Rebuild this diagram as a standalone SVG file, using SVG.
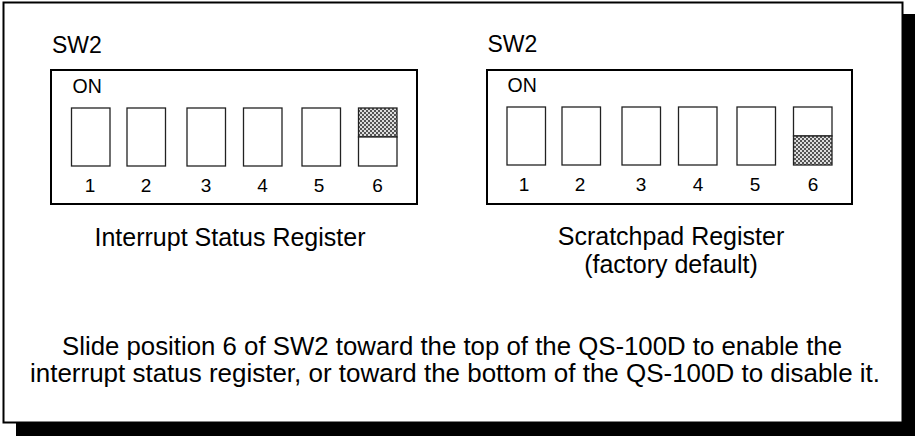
<svg xmlns="http://www.w3.org/2000/svg" width="915" height="436" viewBox="0 0 915 436">
<style>
text{font-family:"Liberation Sans",Arial,sans-serif;fill:#000}
.box{fill:#fff;stroke:#000;stroke-width:2}
.sw{fill:#fff;stroke:#222;stroke-width:1.3}
.on{font-size:19.5px}
.num{font-size:19px;text-anchor:middle}
.title{font-size:23px}
.cap{font-size:25px;text-anchor:middle}
.note{font-size:25px;text-anchor:middle}
</style>
<defs>
<pattern id="hatch" width="4" height="4" patternUnits="userSpaceOnUse">
<rect width="4" height="4" fill="#ddd"/>
<rect width="2" height="2" fill="#555"/>
<rect x="2" y="2" width="2" height="2" fill="#555"/>
</pattern>
</defs>
<rect x="16" y="14" width="899" height="422" fill="#000"/>
<rect x="3.5" y="2.5" width="899" height="420" class="box"/>
<g id="left">
<text x="52" y="52.5" class="title">SW2</text>
<rect x="51" y="70" width="366" height="134" class="box"/>
<text x="72.5" y="93" class="on">ON</text>
<rect x="71.5" y="108" width="38.5" height="58" class="sw"/>
<rect x="127" y="108" width="38.5" height="58" class="sw"/>
<rect x="187" y="108" width="38.5" height="58" class="sw"/>
<rect x="243.5" y="108" width="38.5" height="58" class="sw"/>
<rect x="302" y="108" width="38.5" height="58" class="sw"/>
<rect x="358.5" y="108" width="38.5" height="29" fill="url(#hatch)" stroke="#222" stroke-width="1.3"/>
<rect x="358.5" y="137" width="38.5" height="29" class="sw"/>
<text x="90" y="192" class="num">1</text>
<text x="146" y="192" class="num">2</text>
<text x="206" y="192" class="num">3</text>
<text x="262.5" y="192" class="num">4</text>
<text x="319" y="192" class="num">5</text>
<text x="377.5" y="192" class="num">6</text>
<text x="230" y="246" class="cap">Interrupt Status Register</text>
</g>
<g id="right">
<text x="487.5" y="51.5" class="title">SW2</text>
<rect x="487" y="70" width="365" height="134" class="box"/>
<text x="507.5" y="92" class="on">ON</text>
<rect x="507" y="107" width="38.5" height="58" class="sw"/>
<rect x="562" y="107" width="38.5" height="58" class="sw"/>
<rect x="622" y="107" width="38.5" height="58" class="sw"/>
<rect x="678.5" y="107" width="38.5" height="58" class="sw"/>
<rect x="737" y="107" width="38.5" height="58" class="sw"/>
<rect x="793.5" y="107" width="38.5" height="29" class="sw"/>
<rect x="793.5" y="136" width="38.5" height="29" fill="url(#hatch)" stroke="#222" stroke-width="1.3"/>
<text x="524" y="191" class="num">1</text>
<text x="580" y="191" class="num">2</text>
<text x="641" y="191" class="num">3</text>
<text x="698" y="191" class="num">4</text>
<text x="755" y="191" class="num">5</text>
<text x="813" y="191" class="num">6</text>
<text x="671" y="245" class="cap">Scratchpad Register</text>
<text x="671" y="273" class="cap">(factory default)</text>
</g>
<g id="note">
<text x="452" y="355" class="note" textLength="780" lengthAdjust="spacingAndGlyphs">Slide position 6 of SW2 toward the top of the QS-100D to enable the</text>
<text x="455" y="382" class="note" textLength="850" lengthAdjust="spacingAndGlyphs">interrupt status register, or toward the bottom of the QS-100D to disable it.</text>
</g>
</svg>
